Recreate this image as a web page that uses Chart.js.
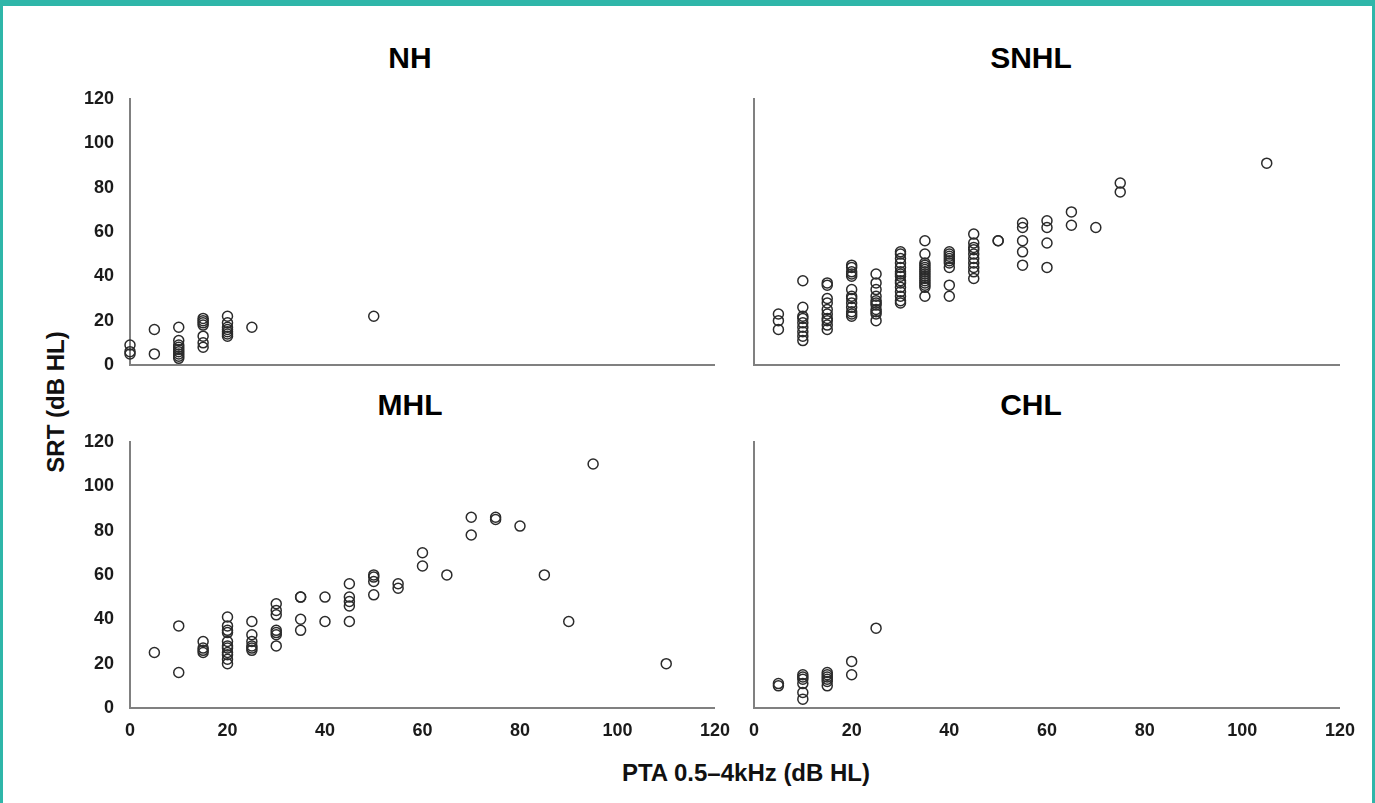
<!DOCTYPE html>
<html lang="en">
<head>
<meta charset="UTF-8">
<title>SRT vs PTA by hearing loss type</title>
<script src="https://cdn.jsdelivr.net/npm/chart.js"></script>
<style>
  html, body { margin: 0; padding: 0; background: #fff; }
  .frame { position: relative; width: 1375px; height: 803px; overflow: hidden; font-family: "Liberation Sans", Arial, sans-serif; }
  .edge { position: absolute; left: 0; top: 0; right: 0; bottom: -10px; border: 3px solid #2fb6a9; border-top-width: 6px; box-sizing: border-box; pointer-events: none; }
  canvas { position: absolute; }
  .title { position: absolute; font-weight: bold; font-size: 30px; color: #000; white-space: nowrap; transform: translate(-50%, -50%); }
  .axis-title { position: absolute; font-weight: bold; font-size: 24px; color: #111; white-space: nowrap; transform: translate(-50%, -50%); }
  .axis-title.vertical { transform: translate(-50%, -50%) rotate(-90deg); }
</style>
</head>
<body>
<div class="frame">
  <div class="edge"></div>

  <div class="title" style="left:410px; top:58px;">NH</div>
  <div class="title" style="left:1031px; top:58px;">SNHL</div>
  <div class="title" style="left:410px; top:405px;">MHL</div>
  <div class="title" style="left:1031px; top:405px;">CHL</div>

  <canvas id="nh" width="672" height="333" style="left:70px; top:72px;"></canvas>
  <canvas id="snhl" width="673" height="333" style="left:694px; top:72px;"></canvas>
  <canvas id="mhl" width="672" height="333" style="left:70px; top:415px;"></canvas>
  <canvas id="chl" width="673" height="333" style="left:694px; top:415px;"></canvas>

  <div class="axis-title vertical" style="left:56px; top:402px;">SRT (dB HL)</div>
  <div class="axis-title" style="left:746px; top:773px;">PTA 0.5–4kHz (dB HL)</div>
</div>

<script>
// PTA levels (dB HL) and the SRT values (dB HL) measured at each level
const ptaNH = [0, 5, 10, 15, 20, 25, 50];
const srtNH = [
  [9, 6, 5], [16, 5], [17, 11, 9, 8, 7, 6, 5, 4, 3], [21, 20, 19, 18, 13, 10, 8],
  [22, 19, 17, 16, 15, 14, 13], [17], [22]
];

const ptaSNHL = [5, 10, 15, 20, 25, 30, 35, 40, 45, 50, 55, 60, 65, 70, 75, 105];
const srtSNHL = [
  [23, 20, 16],
  [38, 26, 22, 21, 19, 17, 15, 13, 11],
  [37, 36, 30, 28, 25, 23, 21, 20, 18, 16],
  [45, 44, 42, 41, 40, 34, 31, 30, 28, 26, 24, 23, 22],
  [41, 37, 34, 31, 29, 28, 27, 25, 24, 23, 20],
  [51, 50, 48, 46, 44, 42, 41, 40, 38, 37, 35, 33, 31, 29, 28],
  [56, 50, 46, 45, 44, 43, 42, 41, 40, 39, 38, 37, 36, 35, 31],
  [51, 50, 49, 48, 47, 46, 44, 36, 31],
  [59, 55, 53, 52, 50, 48, 46, 44, 42, 39],
  [56, 56],
  [64, 62, 56, 51, 45],
  [65, 62, 55, 44],
  [69, 63],
  [62],
  [82, 78],
  [91]
];

const ptaMHL = [5, 10, 15, 20, 25, 30, 35, 40, 45, 50, 55, 60, 65, 70, 75, 80, 85, 90, 95, 110];
const srtMHL = [
  [25], [37, 16], [30, 27, 26, 25],
  [41, 37, 35, 34, 30, 28, 27, 25, 24, 22, 20],
  [39, 33, 30, 28, 27, 26],
  [47, 44, 42, 35, 34, 33, 28],
  [50, 50, 40, 35], [50, 39], [56, 50, 48, 46, 39], [60, 59, 57, 51], [56, 54],
  [70, 64], [60], [86, 78], [86, 85], [82], [60], [39], [110], [20]
];

const ptaCHL = [5, 10, 15, 20, 25];
const srtCHL = [[11, 10], [15, 14, 13, 11, 7, 4], [16, 15, 14, 13, 12, 10], [21, 15], [36]];

const axisTicks = [0, 20, 40, 60, 80, 100, 120];

Chart.defaults.font.family = '"Liberation Sans", Arial, sans-serif';

function toPoints(pta, srt) {
  return pta.flatMap((x, i) => srt[i].map(y => ({ x: x, y: y })));
}

// hidden labels are kept (transparent) so that all four plot areas get the same size
function axis(show, pad, fit) {
  return {
    type: 'linear',
    min: 0,
    max: 120,
    afterBuildTicks: s => { s.ticks = axisTicks.map(v => ({ value: v })); },
    afterFit: fit,
    grid: { display: false, drawTicks: false },
    border: { display: true, color: '#808080', width: 2 },
    ticks: {
      padding: pad,
      color: show ? '#1a1a1a' : 'rgba(0,0,0,0)',
      font: { size: 18, weight: 'bold' }
    }
  };
}

function panel(id, pta, srt, showX, showY) {
  new Chart(document.getElementById(id), {
    type: 'scatter',
    data: {
      datasets: [{
        data: toPoints(pta, srt),
        pointStyle: 'circle',
        pointRadius: 5,
        pointHoverRadius: 5,
        pointBorderWidth: 1.5,
        pointBorderColor: '#2b2b2b',
        pointBackgroundColor: 'rgba(0,0,0,0)',
        clip: false
      }]
    },
    options: {
      responsive: false,
      animation: false,
      events: [],
      layout: { padding: { top: 14, right: 20, left: 0, bottom: 0 } },
      plugins: { legend: { display: false }, tooltip: { enabled: false } },
      scales: {
        x: axis(showX, 12, s => { s.height = 40; }),
        y: axis(showY, 16, s => { s.width = 60; })
      }
    }
  });
}

panel('nh', ptaNH, srtNH, false, true);
panel('snhl', ptaSNHL, srtSNHL, false, false);
panel('mhl', ptaMHL, srtMHL, true, true);
panel('chl', ptaCHL, srtCHL, true, false);
</script>
</body>
</html>
